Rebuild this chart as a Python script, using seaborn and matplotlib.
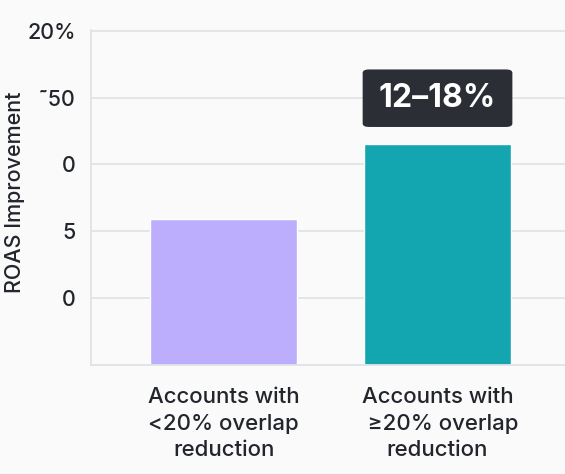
import matplotlib
matplotlib.use("Agg")
import matplotlib.pyplot as plt
import seaborn as sns
import pandas as pd
from matplotlib.patches import FancyBboxPatch

categories = ["Accounts with\n<20% overlap\nreduction", "Accounts with\n  \u226520% overlap\nreduction"]
values = [10.9, 16.5]
colors = ["#bcaefc", "#14a6b0"]
ytick_values = [5, 10, 15, 20, 25]
ytick_labels = ["0", "5", "0", "\u02dc50", "20%"]
annotation = "12\u201318%"

sns.set_theme(style="whitegrid")
plt.rcParams["font.family"] = ["Inter", "DejaVu Sans"]

bg = "#fafafa"
txt = "#22252b"
fig = plt.figure(figsize=(5.65, 4.74), dpi=100, facecolor=bg)
ax = fig.add_axes([91/565, 1-365/474, (565-91)/565, (365-30)/474])
ax.set_facecolor(bg)

df = pd.DataFrame({"cat": categories, "val": values})
sns.barplot(data=df, x="cat", y="val", hue="cat", palette=colors, width=0.69,
            saturation=1, legend=False, ax=ax)

ax.set_xlim(-0.62, 1.596)
ax.set_ylim(0, 25.05)
ax.set_yticks(ytick_values)
ax.set_yticklabels(ytick_labels)
ax.grid(axis="y", color="#e1e4e7", linewidth=1.3)
ax.grid(axis="x", visible=False)
ax.set_axisbelow(True)
for s in ["top", "right"]:
    ax.spines[s].set_visible(False)
for s in ["left", "bottom"]:
    ax.spines[s].set_color("#dfe3e6")
    ax.spines[s].set_linewidth(1.3)
ax.tick_params(axis="y", length=0, pad=11, labelsize=15.5, labelcolor=txt)
ax.tick_params(axis="x", length=0, pad=16, labelsize=16, labelcolor=txt)
for lbl in ax.get_xticklabels():
    lbl.set_linespacing(1.4)
    lbl.set_fontweight(500)
for lbl in ax.get_yticklabels():
    lbl.set_fontweight(500)
ax.set_xlabel("")
ax.set_ylabel("ROAS Improvement", fontsize=15.5, color=txt, fontweight=500)
ax.yaxis.set_label_coords(-0.14, 0.516)

# annotation box above the second bar
x1 = 1
box_w, box_h = 0.70, 4.3
bx = x1 - box_w / 2
by = 17.8
box = FancyBboxPatch((bx, by), box_w, box_h,
                     boxstyle="round,pad=0,rounding_size=0.03",
                     mutation_aspect=25.05 / 2.216 * 474 / 565 * 0.9,
                     facecolor="#2b2f35", edgecolor="none", zorder=5)
ax.add_patch(box)
ax.text(x1, by + box_h / 2, annotation, ha="center", va="center",
        fontsize=23, fontweight="bold", color="white", zorder=6)

fig.savefig("out.png", dpi=100, facecolor=bg)
